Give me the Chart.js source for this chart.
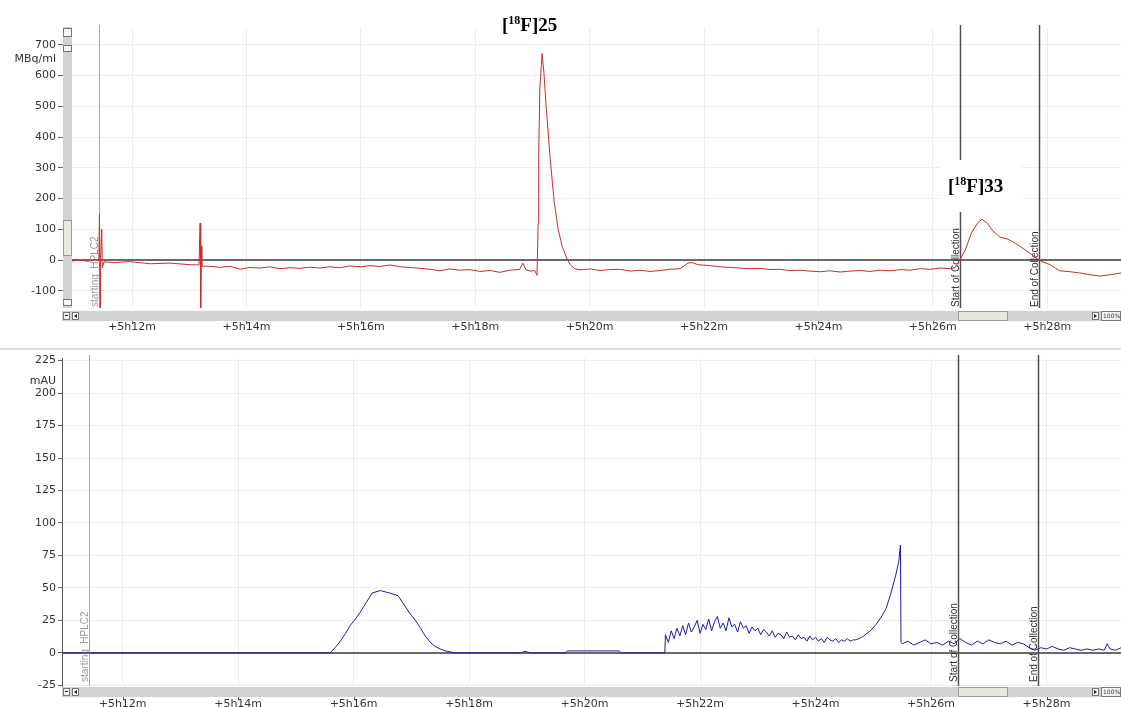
<!DOCTYPE html>
<html>
<head>
<meta charset="utf-8">
<script src="https://cdn.jsdelivr.net/npm/chart.js@4.4.1/dist/chart.umd.min.js"></script>
<style>
  html, body { margin: 0; padding: 0; background: #fff; }
  body { width: 1121px; height: 707px; position: relative; overflow: hidden; }
  canvas { position: absolute; left: 0; }
  #radioChart { top: 0; }
  #uvChart { top: 340px; }
</style>
</head>
<body>
<canvas id="radioChart" width="1121" height="340"></canvas>
<canvas id="uvChart" width="1121" height="367"></canvas>
<script>
// axis ticks (minutes after +5h)
const timeTicks = [12, 14, 16, 18, 20, 22, 24, 26, 28];
const radioTicks = [-100, 0, 100, 200, 300, 400, 500, 600, 700];
const uvTicks = [-25, 0, 25, 50, 75, 100, 125, 150, 175, 200, 225];

// event markers
const markerNames = ['starting_HPLC2', 'Start of Collection', 'End of Collection'];
const markerTimes = [11.42, 26.47, 27.86];

// radio detector trace (MBq/ml)
const radioTimes = [
  10.95, 11.09, 11.23, 11.35, 11.42, 11.43, 11.44, 11.45, 11.47, 11.48, 11.51, 11.70, 11.96, 12.31, 12.66, 13.01,
  13.17, 13.19, 13.20, 13.21, 13.22, 13.36, 13.54, 13.71, 13.89, 14.06, 14.24, 14.41, 14.59, 14.76, 14.94, 15.11,
  15.29, 15.46, 15.64, 15.81, 15.99, 16.16, 16.33, 16.51, 16.68, 16.86, 17.03, 17.21, 17.38, 17.56, 17.73, 17.91,
  18.08, 18.26, 18.43, 18.61, 18.78, 18.83, 18.89, 18.96, 19.04, 19.08, 19.10, 19.11, 19.13, 19.17, 19.20, 19.24,
  19.31, 19.38, 19.45, 19.52, 19.59, 19.66, 19.74, 19.83, 20.01, 20.18, 20.36, 20.53, 20.71, 20.88, 21.06, 21.23,
  21.41, 21.58, 21.72, 21.79, 21.89, 22.10, 22.28, 22.45, 22.63, 22.80, 22.98, 23.15, 23.33, 23.50, 23.68, 23.85,
  24.03, 24.20, 24.38, 24.55, 24.73, 24.90, 25.08, 25.25, 25.43, 25.60, 25.78, 25.95, 26.13, 26.30, 26.39, 26.47,
  26.56, 26.68, 26.79, 26.86, 26.95, 27.05, 27.17, 27.31, 27.44, 27.56, 27.70, 27.82, 27.91, 28.05, 28.22, 28.40,
  28.57, 28.75, 28.92, 29.10, 29.29
];
const radioValues = [
  -3, 0, -4, 1, -2, 150, -160, 5, 100, -25, -6, -8, -5, -12, -10, -15,
  -16, 120, -160, 45, -20, -20, -24, -20, -30, -24, -26, -22, -28, -25, -27, -23,
  -26, -22, -25, -19, -22, -18, -21, -16, -22, -24, -27, -30, -35, -29, -33, -31,
  -37, -34, -40, -33, -30, -10, -32, -36, -34, -50, 120, 350, 560, 672, 610, 500,
  330, 190, 100, 45, 10, -15, -28, -32, -29, -34, -31, -30, -36, -33, -37, -34,
  -30, -28, -10, -8, -15, -18, -22, -24, -26, -28, -27, -31, -30, -34, -33, -36,
  -38, -35, -39, -36, -34, -37, -33, -35, -31, -33, -28, -30, -26, -28, -24, 0,
  30, 90, 122, 133, 120, 95, 75, 68, 55, 40, 22, 5, -5, -15, -35, -38,
  -42, -48, -52, -48, -42
];

// UV detector trace (mAU)
const uvPeakTimes = [
  10.95, 15.59, 15.68, 15.77, 15.86, 15.94, 16.03, 16.11, 16.18, 16.25, 16.32, 16.46, 16.63, 16.77, 16.89, 16.98,
  17.07, 17.16, 17.24, 17.33, 17.41, 17.50, 17.59, 17.76, 18.89, 18.97, 19.06, 19.67, 19.70, 20.60, 20.63, 21.39
];
const uvPeakValues = [
  0, 0, 4, 9, 15, 21, 26, 31, 36, 41, 46, 48, 46, 44, 36, 30,
  25, 19, 13, 8, 5, 3, 1.5, 0, 0, 1.2, 0, 0, 1.5, 1.5, 0, 0
];
const uvNoiseTimes = [
  21.40, 21.45, 21.50, 21.55, 21.60, 21.65, 21.70, 21.75, 21.80, 21.85, 21.90, 21.95,
  22.00, 22.05, 22.10, 22.15, 22.20, 22.25, 22.30, 22.35, 22.40, 22.45, 22.50, 22.55,
  22.60, 22.65, 22.70, 22.75, 22.80, 22.85, 22.90, 22.95, 23.00, 23.05, 23.10, 23.15,
  23.20, 23.25, 23.30, 23.35, 23.40, 23.45, 23.50, 23.55, 23.60, 23.65, 23.70, 23.75,
  23.80, 23.85, 23.90, 23.95, 24.00, 24.05, 24.10, 24.15, 24.20, 24.25, 24.30, 24.35,
  24.40, 24.45, 24.50, 24.55, 24.60, 24.65
];
const uvNoiseValues = [
  14, 8, 17, 11, 19, 13, 21, 14, 23, 16, 20, 25,
  15, 22, 18, 26, 17, 24, 28, 19, 23, 17, 27, 20,
  22, 16, 24, 19, 21, 15, 20, 17, 19, 14, 18, 16,
  13, 17, 12, 15, 14, 11, 16, 12, 13, 10, 14, 11,
  12, 9, 13, 10, 12, 9, 11, 8, 12, 10, 9, 11,
  8, 10, 9, 11, 9, 10
];
const uvTailTimes = [
  24.70, 24.80, 24.95, 25.05, 25.13, 25.22, 25.30, 25.39, 25.44, 25.47, 25.48,
  25.5, 25.6, 25.7, 25.8, 25.9, 26.0, 26.1, 26.2, 26.3, 26.4, 26.5, 26.6, 26.7, 26.8, 26.9, 27.0,
  27.1, 27.2, 27.3, 27.4, 27.5, 27.6, 27.7, 27.8, 27.9, 28.0, 28.1, 28.2, 28.3, 28.4, 28.5, 28.6,
  28.7, 28.8, 28.9, 29.0, 29.05, 29.1, 29.2, 29.29
];
const uvTailValues = [
  10, 12, 17, 22, 27, 34, 45, 60, 70, 83, 8,
  7, 9, 6, 8, 10, 7, 8, 6, 9, 7, 11, 8, 6, 9, 7, 10,
  8, 7, 9, 6, 8, 7, 4, 2, 4, 3, 5, 3, 2, 4, 3, 2,
  3, 2, 3, 2, 7, 3, 2, 4
];

const tickFont = { family: '"DejaVu Sans"', size: 11 };

function toPoints(times, values) {
  return times.map((t, i) => ({ x: t, y: values[i] }));
}

function vText(ctx, text, x, y, color) {
  ctx.save();
  ctx.translate(x, y);
  ctx.rotate(-Math.PI / 2);
  ctx.fillStyle = color;
  ctx.font = '10px "Liberation Sans"';
  ctx.textAlign = 'left';
  ctx.textBaseline = 'alphabetic';
  ctx.fillText(text, 0, 0);
  ctx.restore();
}

function isoLabel(ctx, num, x, y) {
  // draws "[18F]nn" with superscript mass number
  ctx.save();
  ctx.fillStyle = '#000';
  ctx.textAlign = 'left';
  ctx.textBaseline = 'alphabetic';
  ctx.font = 'bold 19px "Liberation Serif"';
  ctx.fillText('[', x, y);
  let cx = x + ctx.measureText('[').width;
  ctx.font = 'bold 12px "Liberation Serif"';
  ctx.fillText('18', cx, y - 7);
  cx += ctx.measureText('18').width;
  ctx.font = 'bold 19px "Liberation Serif"';
  ctx.fillText('F]' + num, cx, y);
  ctx.restore();
}

function hScrollbar(ctx, y, left, right, thumbX) {
  ctx.fillStyle = '#d2d2d2';
  ctx.fillRect(left, y, right - left, 10);
  ctx.fillStyle = '#e9e7e1';
  ctx.fillRect(thumbX, y, 50, 10);
  ctx.strokeStyle = '#9a9a9a';
  ctx.lineWidth = 1;
  ctx.strokeRect(thumbX + 0.5, y + 0.5, 49, 9);
  // buttons
  ctx.fillStyle = '#f4f4f4';
  ctx.strokeStyle = '#777';
  [[left + 1, 1], [left + 10, 2], [right - 29, 3]].forEach(([bx, kind]) => {
    ctx.fillRect(bx, y + 1, 7, 8);
    ctx.strokeRect(bx + 0.5, y + 1.5, 6, 7);
    ctx.fillStyle = '#222';
    if (kind === 1) ctx.fillRect(bx + 2, y + 4, 3, 1);
    else {
      ctx.beginPath();
      if (kind === 2) { ctx.moveTo(bx + 2, y + 5); ctx.lineTo(bx + 5, y + 3); ctx.lineTo(bx + 5, y + 7); }
      else { ctx.moveTo(bx + 5, y + 5); ctx.lineTo(bx + 2, y + 3); ctx.lineTo(bx + 2, y + 7); }
      ctx.fill();
    }
    ctx.fillStyle = '#f4f4f4';
  });
  ctx.fillStyle = '#f4f4f4';
  ctx.fillRect(right - 20, y, 20, 10);
  ctx.strokeRect(right - 19.5, y + 0.5, 19, 9);
  ctx.fillStyle = '#333';
  ctx.font = '6px "DejaVu Sans"';
  ctx.textAlign = 'left';
  ctx.textBaseline = 'middle';
  ctx.fillText('100%', right - 18, y + 5);
}

function tickMarks(ctx, scale, y) {
  ctx.strokeStyle = '#555';
  ctx.lineWidth = 1;
  timeTicks.forEach(v => {
    const x = Math.round(scale.getPixelForValue(v)) + 0.5;
    ctx.beginPath();
    ctx.moveTo(x, y);
    ctx.lineTo(x, y + 3);
    ctx.stroke();
  });
}

function drawMarkers(chart, labelBottom) {
  const { ctx, chartArea, scales } = chart;
  markerTimes.forEach((t, i) => {
    const x = Math.round(scales.x.getPixelForValue(t)) + 0.5;
    ctx.save();
    ctx.strokeStyle = i === 0 ? '#a8a8a8' : '#505050';
    ctx.lineWidth = i === 0 ? 1 : 1.5;
    ctx.beginPath();
    ctx.moveTo(x, chartArea.top - 3);
    ctx.lineTo(x, chartArea.bottom);
    ctx.stroke();
    ctx.restore();
    vText(ctx, markerNames[i], x - 2, labelBottom, i === 0 ? '#9a9a9a' : '#333');
  });
}

function zeroLine(chart) {
  const { ctx, chartArea, scales } = chart;
  const y = scales.y.getPixelForValue(0);
  ctx.save();
  ctx.strokeStyle = '#6a6a6a';
  ctx.lineWidth = 2;
  ctx.beginPath();
  ctx.moveTo(chartArea.left, y);
  ctx.lineTo(chartArea.right, y);
  ctx.stroke();
  ctx.restore();
}

const radioDecor = {
  id: 'radioDecor',
  beforeDatasetsDraw(chart) {
    const { ctx, chartArea } = chart;
    zeroLine(chart);
    drawMarkers(chart, chartArea.bottom - 1);
    // white box behind the second peak label
    ctx.fillStyle = '#fff';
    ctx.fillRect(940, 160, 82, 52);
    isoLabel(ctx, '33', 948, 192);
  },
  afterDraw(chart) {
    const { ctx, scales } = chart;
    ctx.save();
    // vertical scrollbar
    ctx.fillStyle = '#d2d2d2';
    ctx.fillRect(63, 27, 9, 281);
    ctx.fillStyle = '#e9e7e1';
    ctx.fillRect(63, 220, 9, 36);
    ctx.strokeStyle = '#9a9a9a';
    ctx.strokeRect(63.5, 220.5, 8, 35);
    ctx.fillStyle = '#f4f4f4';
    ctx.strokeStyle = '#777';
    [[28, 9], [45, 7], [299, 7]].forEach(([by, h]) => {
      ctx.fillRect(63, by, 9, h);
      ctx.strokeRect(63.5, by + 0.5, 8, h - 1);
    });
    hScrollbar(ctx, 311, 62, 1121, 958);
    tickMarks(ctx, scales.x, 321);
    ctx.fillStyle = '#333';
    ctx.font = '11px "DejaVu Sans"';
    ctx.textAlign = 'right';
    ctx.textBaseline = 'middle';
    ctx.fillText('MBq/ml', 56, 59);
    isoLabel(ctx, '25', 502, 31);
    ctx.restore();
  }
};

const uvDecor = {
  id: 'uvDecor',
  beforeDraw(chart) {
    const { ctx } = chart;
    ctx.fillStyle = '#e2e2e2';
    ctx.fillRect(0, 8, 1121, 2);
  },
  beforeDatasetsDraw(chart) {
    zeroLine(chart);
    drawMarkers(chart, chart.chartArea.bottom - 4);
  },
  afterDraw(chart) {
    const { ctx, scales } = chart;
    ctx.save();
    hScrollbar(ctx, 347, 62, 1121, 958);
    tickMarks(ctx, scales.x, 357);
    ctx.fillStyle = '#333';
    ctx.font = '11px "DejaVu Sans"';
    ctx.textAlign = 'right';
    ctx.textBaseline = 'middle';
    ctx.fillText('mAU', 56, 41);
    ctx.restore();
  }
};

function xScale(height, pad) {
  return {
    type: 'linear',
    min: 10.95,
    max: 29.29,
    afterBuildTicks: s => { s.ticks = timeTicks.map(v => ({ value: v })); },
    afterFit: s => { s.height = height; },
    grid: { color: '#ededed', drawTicks: false },
    border: { display: false },
    ticks: {
      padding: pad,
      color: '#333',
      font: tickFont,
      maxRotation: 0,
      autoSkip: false,
      callback: v => '+5h' + v + 'm'
    }
  };
}

function yScale(min, max, tickVals, width, tickLen, showBorder) {
  return {
    min: min,
    max: max,
    afterBuildTicks: s => { s.ticks = tickVals.map(v => ({ value: v })); },
    afterFit: s => { s.width = width; },
    grid: { color: '#ededed', tickLength: tickLen, tickColor: '#666' },
    border: { display: showBorder, color: '#555' },
    ticks: { padding: 2, color: '#333', font: tickFont, autoSkip: false }
  };
}

new Chart(document.getElementById('radioChart'), {
  type: 'line',
  data: {
    datasets: [{
      data: toPoints(radioTimes, radioValues),
      borderColor: '#cc2b2b',
      borderWidth: 1,
      pointRadius: 0,
      tension: 0,
      fill: false
    }]
  },
  options: {
    responsive: false,
    animation: false,
    layout: { padding: { top: 28, right: 0, left: 0, bottom: 0 } },
    plugins: { legend: { display: false }, tooltip: { enabled: false } },
    scales: {
      x: xScale(32, 13),
      y: yScale(-156, 755, radioTicks, 72, 14, false)
    }
  },
  plugins: [radioDecor]
});

new Chart(document.getElementById('uvChart'), {
  type: 'line',
  data: {
    datasets: [{
      data: toPoints(uvPeakTimes, uvPeakValues)
        .concat(toPoints(uvNoiseTimes, uvNoiseValues))
        .concat(toPoints(uvTailTimes, uvTailValues)),
      borderColor: '#1c1ca6',
      borderWidth: 1,
      pointRadius: 0,
      tension: 0,
      fill: false
    }]
  },
  options: {
    responsive: false,
    animation: false,
    layout: { padding: { top: 18, right: 0, left: 0, bottom: 0 } },
    plugins: { legend: { display: false }, tooltip: { enabled: false } },
    scales: {
      x: xScale(21, 12),
      y: yScale(-25.5, 227, uvTicks, 62, 4, true)
    }
  },
  plugins: [uvDecor]
});
</script>
</body>
</html>
